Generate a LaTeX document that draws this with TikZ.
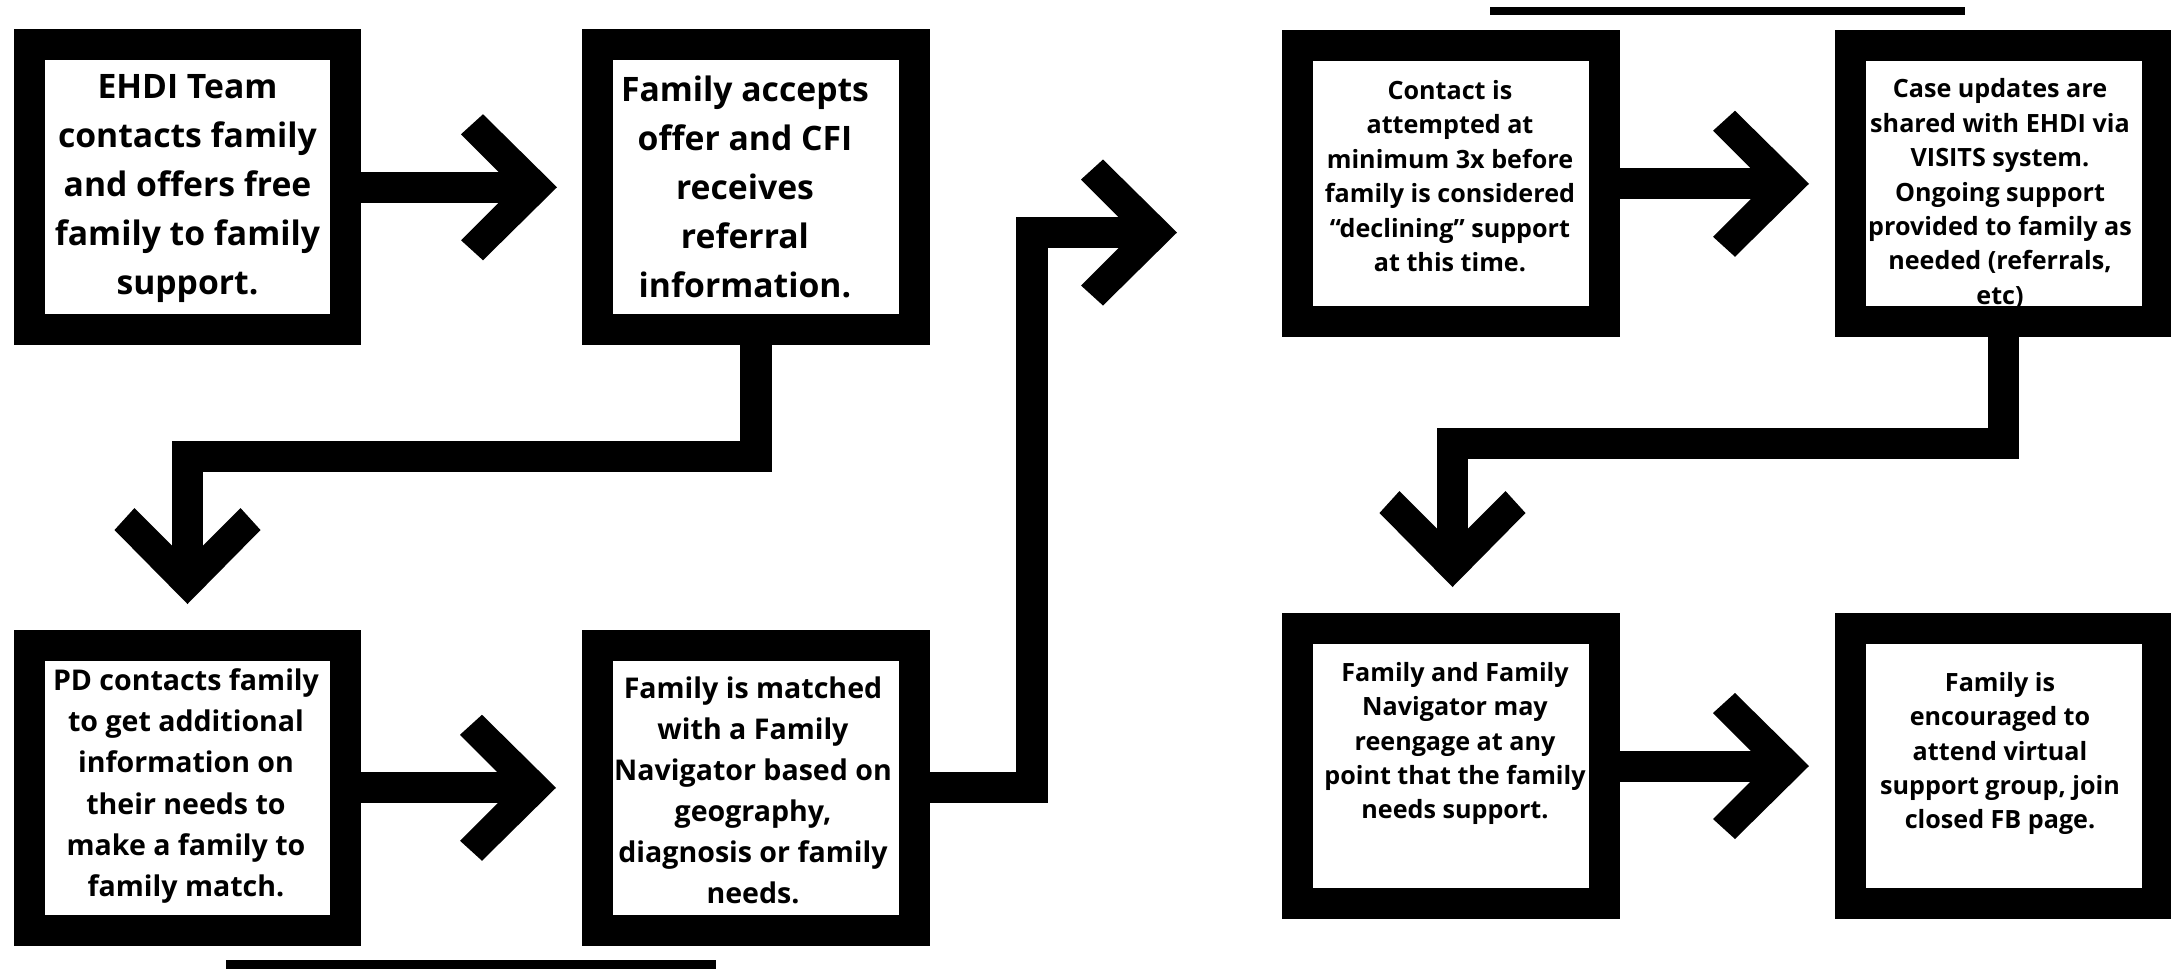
\documentclass[tikz,border=0pt]{standalone}
\usepackage{fontspec}
\setmainfont{Open Sans}
\usetikzlibrary{calc}
\newcommand\mychevR[1]{\fill (#1) -- ++(-74,-73) -- ++(-22,20) -- ++(53,53) -- ++(-53,53) -- ++(22,20) -- cycle;}
\newcommand\mychevD[1]{\fill (#1) -- ++(-73,-74) -- ++(20,-22) -- ++(53,53) -- ++(53,-53) -- ++(20,22) -- cycle;}
\tikzset{
  box/.style={draw=black, fill=white, line width=0.31cm, inner sep=0pt},
  boxL/.style={box, minimum width=3.165cm, minimum height=2.845cm},
  boxR/.style={box, minimum width=3.07cm, minimum height=2.755cm},
  conn/.style={draw=black, line width=0.31cm, line join=miter, line cap=butt},
  txt/.style={align=center, inner sep=0pt, text=black},
  txtA/.style={txt, font=\fontsize{9.58pt}{13.94pt}\selectfont\bfseries},
  txtB/.style={txt, font=\fontsize{8.12pt}{11.67pt}\selectfont\bfseries},
  txtC/.style={txt, font=\fontsize{7.15pt}{9.79pt}\selectfont\bfseries},
  bar/.style={fill=black, draw=none}
}
\begin{document}
\begin{tikzpicture}[x=0.01cm, y=-0.01cm]
\clip (0,0) rectangle (2171,969);
\fill[white] (0,0) rectangle (2171,969);

% boxes
\node[boxL] (b1) at (187.5,187.25) {};
\node[boxL] (b2) at (756,187.25) {};
\node[boxL] (b3) at (187.5,787.75) {};
\node[boxL] (b4) at (756,787.75) {};
\node[boxR] (b5) at (1451.25,183.75) {};
\node[boxR] (b6) at (2003.75,183.75) {};
\node[boxR] (b7) at (1451.25,766) {};
\node[boxR] (b8) at (2003.75,766) {};

% texts
\node[txtA] (t1) at (187.5,188.5) {EHDI Team\\contacts family\\and offers free\\family to family\\support.};
\node[txtA] (t2) at (745,186.5) {Family accepts\\offer and CFI\\receives\\referral\\information.};
\node[txtB] (t3) at (186,786) {PD contacts family\\to get additional\\information on\\their needs to\\make a family to\\family match.};
\node[txtB] (t4) at (753,790) {Family is matched\\with a Family\\Navigator based on\\geography,\\diagnosis or family\\needs.};
\node[txtC] (t5) at (1450,176) {Contact is\\attempted at\\minimum 3x before\\family is considered\\“declining” support\\at this time.};
\node[txtC] (t6) at (2000,193.5) {Case updates are\\shared with EHDI via\\VISITS system.\\Ongoing support\\provided to family as\\needed (referrals,\\etc)};
\node[txtC] (t7) at (1455,743.5) {Family and Family\\Navigator may\\reengage at any\\point that the family\\needs support.};
\node[txtC] (t8) at (2000,753.5) {Family is\\encouraged to\\attend virtual\\support group, join\\closed FB page.};

% arrow tip coordinates and bends
\coordinate (h1) at (557,187.25);
\coordinate (k2) at (187.5,456);
\coordinate (v2) at (187.5,604);
\coordinate (h3) at (556,787.75);
\coordinate (k4) at (1032,232.5);
\coordinate (h4) at (1177,232.5);
\coordinate (h5) at (1809,183.75);
\coordinate (k6) at (1452.5,443.5);
\coordinate (v6) at (1452.5,587);
\coordinate (h7) at (1809,766);

% connectors
\draw[conn] (b1.east) -- ($(h1)+(-30,0)$);
\mychevR{h1}
\draw[conn] (b2.south) |- (k2) -- ($(v2)+(0,-30)$);
\mychevD{v2}
\draw[conn] (b3.east) -- ($(h3)+(-30,0)$);
\mychevR{h3}
\draw[conn] (b4.east) -| (k4) -- ($(h4)+(-30,0)$);
\mychevR{h4}
\draw[conn] (b5.east) -- ($(h5)+(-30,0)$);
\mychevR{h5}
\draw[conn] (b6.south) |- (k6) -- ($(v6)+(0,-30)$);
\mychevD{v6}
\draw[conn] (b7.east) -- ($(h7)+(-30,0)$);
\mychevR{h7}

% decorative bars
\fill[bar] (226,960) rectangle (716,975);
\fill[bar] (1490,7) rectangle (1965,15);
\end{tikzpicture}
\end{document}
